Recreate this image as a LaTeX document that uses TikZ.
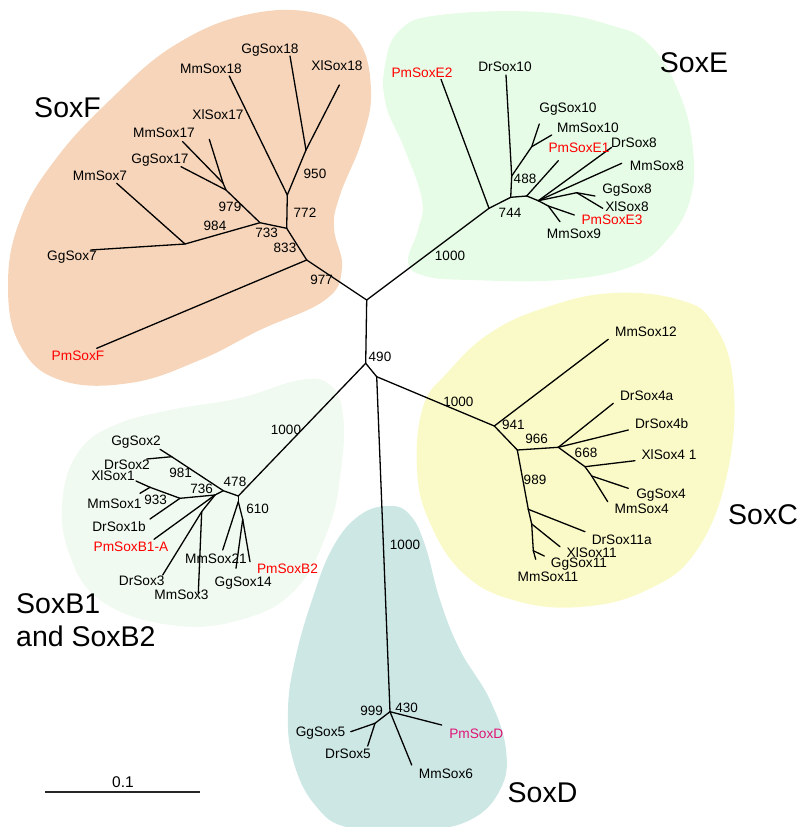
\documentclass[tikz,border=0pt]{standalone}
\usepackage{fontspec}
\setmainfont{Liberation Sans}
\definecolor{peach}{RGB}{246,213,186}
\definecolor{paleE}{RGB}{230,252,230}
\definecolor{paleB}{RGB}{240,250,240}
\definecolor{paleC}{RGB}{250,250,200}
\definecolor{paleD}{RGB}{205,232,228}
\definecolor{pmred}{RGB}{255,0,0}
\definecolor{pmpink}{RGB}{224,20,120}
\tikzset{branch/.style={line width=1.3pt, line cap=round}}
\tikzset{leaf/.style={font=\fontsize{13.7}{16}\selectfont, inner sep=0pt}}
\tikzset{pm/.style={leaf, text=pmred}}
\tikzset{boot/.style={font=\fontsize{13.5}{16}\selectfont, inner sep=0pt}}
\tikzset{clade/.style={font=\fontsize{28.5}{33}\selectfont, inner sep=0pt}}
\tikzset{blob/.style={smooth cycle, tension=0.7}}

\begin{document}
\begin{tikzpicture}[x=1pt, y=-1pt]
    \useasboundingbox (0,0) rectangle (801,827);
    % shaded groups
    \fill[peach] plot[blob] coordinates {(250,14) (320,14) (358,40) (371,90) (362,140) (340,195) (334,228) (342,268) (325,300) (260,330) (200,360) (130,383) (60,380) (20,345) (8,285) (20,220) (55,160) (110,100) (175,45)};
    \fill[paleE] plot[blob] coordinates {(440,15) (540,12) (610,25) (650,45) (680,95) (693,150) (690,200) (667,240) (630,267) (560,280) (470,280) (425,276) (408,262) (418,230) (422,200) (405,150) (386,105) (385,65) (400,30)};
    \fill[paleB] plot[blob] coordinates {(300,380) (330,385) (343,415) (341,470) (328,530) (295,590) (240,620) (170,625) (100,600) (68,550) (63,495) (80,450) (115,425) (170,410) (240,398)};
    \fill[paleC] plot[blob] coordinates {(417,470) (423,407) (447,373) (490,333) (547,307) (613,293) (680,300) (713,323) (733,380) (728,470) (697,550) (647,590) (580,607) (513,600) (463,573) (430,523)};
    \fill[paleD] plot[blob] coordinates {(390,506) (410,515) (425,545) (440,600) (460,650) (490,700) (506,750) (500,790) (470,820) (420,830) (350,828) (315,805) (293,760) (288,710) (295,660) (312,600) (333,547) (360,515)};

    % backbone
    \coordinate (top) at (366.7,300);
    \coordinate (n490) at (365.7,363.3);
    \coordinate (mid) at (376.7,376.7);
    \draw[branch] (top) -- (n490);
    \draw[branch] (n490) -- (mid);
    \node[boot] (b490) at (380,357) {490};

    % SoxF
    \coordinate (n977) at (306.7,260);
    \coordinate (n833) at (286.7,228.3);
    \coordinate (n772) at (287.3,195);
    \coordinate (n950) at (306,150);
    \coordinate (n733) at (260,222.7);
    \coordinate (n979) at (226,190);
    \coordinate (n17) at (223,183);
    \coordinate (n984) at (185,244);
    \coordinate (PmSoxF) at (96.7,348.3);
    \coordinate (MmSox18) at (229.3,76);
    \coordinate (GgSox18) at (290,56);
    \coordinate (XlSox18) at (339.3,85);
    \coordinate (XlSox17) at (209.3,139.3);
    \coordinate (MmSox17) at (182.7,141.7);
    \coordinate (GgSox17) at (181,166.7);
    \coordinate (MmSox7) at (116.7,183.3);
    \coordinate (GgSox7) at (90.7,250);
    \draw[branch] (top) -- (n977);
    \draw[branch] (n977) -- (PmSoxF);
    \draw[branch] (n977) -- (n833);
    \draw[branch] (n833) -- (n772);
    \draw[branch] (n772) -- (MmSox18);
    \draw[branch] (n772) -- (n950);
    \draw[branch] (n950) -- (GgSox18);
    \draw[branch] (n950) -- (XlSox18);
    \draw[branch] (n833) -- (n733);
    \draw[branch] (n733) -- (n979);
    \draw[branch] (n979) -- (n17);
    \draw[branch] (n17) -- (XlSox17);
    \draw[branch] (n17) -- (MmSox17);
    \draw[branch] (n979) -- (GgSox17);
    \draw[branch] (n733) -- (n984);
    \draw[branch] (n984) -- (MmSox7);
    \draw[branch] (n984) -- (GgSox7);
    \node[boot] (b977) at (321.7,280) {977};
    \node[boot] (b833) at (285,248) {833};
    \node[boot] (b772) at (305,213) {772};
    \node[boot] (b950) at (315,174) {950};
    \node[boot] (b733) at (266.7,233.3) {733};
    \node[boot] (b984) at (215,226) {984};
    \node[boot] (b979) at (230,207.3) {979};
    \node[leaf] (lGgSox18) at (270,50) {GgSox18};
    \node[leaf] (lXlSox18) at (337,66) {XlSox18};
    \node[leaf] (lMmSox18) at (211,69) {MmSox18};
    \node[leaf] (lXlSox17) at (218,115) {XlSox17};
    \node[leaf] (lMmSox17) at (164,133) {MmSox17};
    \node[leaf] (lGgSox17) at (160,160) {GgSox17};
    \node[leaf] (lMmSox7) at (100,176) {MmSox7};
    \node[leaf] (lGgSox7) at (72,257) {GgSox7};
    \node[pm] (lPmSoxF) at (78,356) {PmSoxF};
    \node[clade] (cF) at (67.5,107.5) {SoxF};

    % SoxE
    \coordinate (nE) at (489,208.3);
    \coordinate (n744) at (510.7,197.3);
    \coordinate (n488) at (511.7,176);
    \coordinate (nS10) at (531.7,146.7);
    \coordinate (nE1) at (526.7,196);
    \coordinate (nS8) at (538.3,200.7);
    \coordinate (nGX8) at (576.7,192.7);
    \coordinate (nS9) at (548.3,206);
    \coordinate (PmSoxE2) at (441,79.3);
    \coordinate (DrSox10) at (506,75);
    \coordinate (GgSox10) at (539.3,124);
    \coordinate (MmSox10) at (551.7,135);
    \coordinate (PmSoxE1) at (558.3,160.7);
    \coordinate (DrSox8) at (611.7,147.3);
    \coordinate (MmSox8) at (621.7,163.3);
    \coordinate (GgSox8) at (595,196);
    \coordinate (XlSox8) at (602.7,208.3);
    \coordinate (PmSoxE3) at (574.3,215);
    \coordinate (MmSox9) at (560,221.7);
    \draw[branch] (top) -- (nE);
    \draw[branch] (nE) -- (PmSoxE2);
    \draw[branch] (nE) -- (n744);
    \draw[branch] (n744) -- (n488);
    \draw[branch] (n488) -- (DrSox10);
    \draw[branch] (n488) -- (nS10);
    \draw[branch] (nS10) -- (GgSox10);
    \draw[branch] (nS10) -- (MmSox10);
    \draw[branch] (n744) -- (nE1);
    \draw[branch] (nE1) -- (PmSoxE1);
    \draw[branch] (nE1) -- (nS8);
    \draw[branch] (nS8) -- (DrSox8);
    \draw[branch] (nS8) -- (MmSox8);
    \draw[branch] (nS8) -- (nGX8);
    \draw[branch] (nGX8) -- (GgSox8);
    \draw[branch] (nGX8) -- (XlSox8);
    \draw[branch] (nS8) -- (nS9);
    \draw[branch] (nS9) -- (PmSoxE3);
    \draw[branch] (nS9) -- (MmSox9);
    \node[boot] (b1000e) at (450,256) {1000};
    \node[boot] (b744) at (510,213.3) {744};
    \node[boot] (b488) at (525,179.3) {488};
    \node[pm] (lPmSoxE2) at (422,73) {PmSoxE2};
    \node[leaf] (lDrSox10) at (505,67) {DrSox10};
    \node[leaf] (lGgSox10) at (568,109) {GgSox10};
    \node[leaf] (lMmSox10) at (588,128) {MmSox10};
    \node[pm] (lPmSoxE1) at (579,148) {PmSoxE1};
    \node[leaf] (lDrSox8) at (634,143) {DrSox8};
    \node[leaf] (lMmSox8) at (657,166) {MmSox8};
    \node[leaf] (lGgSox8) at (627,190) {GgSox8};
    \node[leaf] (lXlSox8) at (627,207) {XlSox8};
    \node[pm] (lPmSoxE3) at (612,220) {PmSoxE3};
    \node[leaf] (lMmSox9) at (574,234) {MmSox9};
    \node[clade] (cE) at (694,63) {SoxE};

    % SoxB1 and SoxB2
    \coordinate (nB) at (238.3,496);
    \coordinate (n478) at (223.3,490.7);
    \coordinate (n981) at (171.7,456.7);
    \coordinate (n736) at (215,495);
    \coordinate (n933) at (180,498.3);
    \coordinate (nS1) at (150,487.3);
    \coordinate (nS3) at (201.7,511.7);
    \coordinate (n610) at (238.3,501.7);
    \coordinate (nB2) at (242.7,519.3);
    \coordinate (GgSox2) at (160,449.3);
    \coordinate (DrSox2) at (146.7,459);
    \coordinate (XlSox1) at (136,481);
    \coordinate (MmSox1) at (140,493.3);
    \coordinate (DrSox1b) at (150,519);
    \coordinate (PmSoxB1A) at (154,539.3);
    \coordinate (DrSox3) at (162.7,575);
    \coordinate (MmSox3) at (198.3,593.3);
    \coordinate (MmSox21) at (222.7,550);
    \coordinate (GgSox14) at (236,568.3);
    \coordinate (PmSoxB2) at (250,561.7);
    \draw[branch] (n490) -- (nB);
    \draw[branch] (nB) -- (n478);
    \draw[branch] (n478) -- (n981);
    \draw[branch] (n981) -- (GgSox2);
    \draw[branch] (n981) -- (DrSox2);
    \draw[branch] (n478) -- (n736);
    \draw[branch] (n736) -- (n933);
    \draw[branch] (n933) -- (nS1);
    \draw[branch] (nS1) -- (XlSox1);
    \draw[branch] (nS1) -- (MmSox1);
    \draw[branch] (n933) -- (DrSox1b);
    \draw[branch] (n736) -- (PmSoxB1A);
    \draw[branch] (n736) -- (nS3);
    \draw[branch] (nS3) -- (DrSox3);
    \draw[branch] (nS3) -- (MmSox3);
    \draw[branch] (nB) -- (n610);
    \draw[branch] (n610) -- (MmSox21);
    \draw[branch] (n610) -- (nB2);
    \draw[branch] (nB2) -- (GgSox14);
    \draw[branch] (nB2) -- (PmSoxB2);
    \node[boot] (b1000b) at (286,430) {1000};
    \node[boot] (b478) at (235,481.7) {478};
    \node[boot] (b981) at (180.7,473.3) {981};
    \node[boot] (b736) at (201.7,489.3) {736};
    \node[boot] (b933) at (155.7,500) {933};
    \node[boot] (b610) at (257.7,509.3) {610};
    \node[leaf] (lGgSox2) at (136,441.7) {GgSox2};
    \node[leaf] (lDrSox2) at (127,465) {DrSox2};
    \node[leaf] (lXlSox1) at (113,476) {XlSox1};
    \node[leaf] (lMmSox1) at (114.5,503.5) {MmSox1};
    \node[leaf] (lDrSox1b) at (119,526.7) {DrSox1b};
    \node[pm] (lPmSoxB1A) at (131,546.7) {PmSoxB1-A};
    \node[leaf] (lDrSox3) at (141.7,580.7) {DrSox3};
    \node[leaf] (lMmSox3) at (181.5,595) {MmSox3};
    \node[leaf] (lMmSox21) at (216,558.3) {MmSox21};
    \node[leaf] (lGgSox14) at (243.3,583.3) {GgSox14};
    \node[pm] (lPmSoxB2) at (287.5,568.3) {PmSoxB2};
    \node[clade, align=left, anchor=north west] (cB) at (16,593) {SoxB1\\and SoxB2};

    % SoxC
    \coordinate (n941) at (494.3,426);
    \coordinate (nC) at (517.3,450);
    \coordinate (n966) at (558.3,447.3);
    \coordinate (n668) at (585,466.7);
    \coordinate (nS4) at (591.7,476);
    \coordinate (n989) at (528.3,509.3);
    \coordinate (nS11) at (531.7,524);
    \coordinate (nGM11) at (533.3,550.7);
    \coordinate (MmSox12) at (608.3,339.3);
    \coordinate (DrSox4a) at (613.3,403.3);
    \coordinate (DrSox4b) at (628.3,430);
    \coordinate (XlSox41) at (635,460.7);
    \coordinate (GgSox4) at (628.3,488.3);
    \coordinate (MmSox4) at (607.7,501.7);
    \coordinate (DrSox11a) at (585,531.7);
    \coordinate (XlSox11) at (560,546.7);
    \coordinate (GgSox11) at (544.3,556);
    \coordinate (MmSox11) at (535.7,559.3);
    \draw[branch] (mid) -- (n941);
    \draw[branch] (n941) -- (MmSox12);
    \draw[branch] (n941) -- (nC);
    \draw[branch] (nC) -- (n966);
    \draw[branch] (n966) -- (DrSox4a);
    \draw[branch] (n966) -- (DrSox4b);
    \draw[branch] (n966) -- (n668);
    \draw[branch] (n668) -- (XlSox41);
    \draw[branch] (n668) -- (nS4);
    \draw[branch] (nS4) -- (GgSox4);
    \draw[branch] (nS4) -- (MmSox4);
    \draw[branch] (nC) -- (n989);
    \draw[branch] (n989) -- (DrSox11a);
    \draw[branch] (n989) -- (nS11);
    \draw[branch] (nS11) -- (XlSox11);
    \draw[branch] (nS11) -- (nGM11);
    \draw[branch] (nGM11) -- (GgSox11);
    \draw[branch] (nGM11) -- (MmSox11);
    \node[boot] (b1000c) at (458.3,401.7) {1000};
    \node[boot] (b941) at (513.3,425) {941};
    \node[boot] (b966) at (536.7,439.3) {966};
    \node[boot] (b668) at (586,453.3) {668};
    \node[boot] (b989) at (535,480) {989};
    \node[leaf] (lMmSox12) at (646,331.7) {MmSox12};
    \node[leaf] (lDrSox4a) at (646.7,396) {DrSox4a};
    \node[leaf] (lDrSox4b) at (661.7,423.3) {DrSox4b};
    \node[leaf] (lXlSox41) at (669,454.3) {XlSox4 1};
    \node[leaf] (lGgSox4) at (661,495) {GgSox4};
    \node[leaf] (lMmSox4) at (641.7,509) {MmSox4};
    \node[leaf] (lDrSox11a) at (621.7,540) {DrSox11a};
    \node[leaf] (lXlSox11) at (591.7,552.5) {XlSox11};
    \node[leaf] (lGgSox11) at (579,564) {GgSox11};
    \node[leaf] (lMmSox11) at (548,576.7) {MmSox11};
    \node[clade] (cC) at (763,515) {SoxC};

    % SoxD
    \coordinate (n430) at (390,711.7);
    \coordinate (n999) at (375,723.3);
    \coordinate (GgSox5) at (350.7,731.7);
    \coordinate (DrSox5) at (367.7,746);
    \coordinate (PmSoxD) at (441.7,725);
    \coordinate (MmSox6) at (411.7,765);
    \draw[branch] (mid) -- (n430);
    \draw[branch] (n430) -- (n999);
    \draw[branch] (n999) -- (GgSox5);
    \draw[branch] (n999) -- (DrSox5);
    \draw[branch] (n430) -- (PmSoxD);
    \draw[branch] (n430) -- (MmSox6);
    \node[boot] (b1000d) at (405,545) {1000};
    \node[boot] (b999) at (371.7,710.7) {999};
    \node[boot] (b430) at (406.7,708.3) {430};
    \node[leaf] (lGgSox5) at (320.5,733.3) {GgSox5};
    \node[leaf] (lDrSox5) at (348,754) {DrSox5};
    \node[leaf] (lMmSox6) at (446,773.3) {MmSox6};
    \node[leaf, text=pmpink] (lPmSoxD) at (476.3,733.3) {PmSoxD};
    \node[clade] (cD) at (542.5,793) {SoxD};

    % scale
    \coordinate (sbl) at (45,791.7);
    \coordinate (sbr) at (200,791.7);
    \draw[line width=2pt, black!85] (sbl) -- (sbr);
    \node[font=\fontsize{15.5}{18}\selectfont, inner sep=0pt] (sb) at (123,782.5) {0.1};
  \end{tikzpicture}
\end{document}
